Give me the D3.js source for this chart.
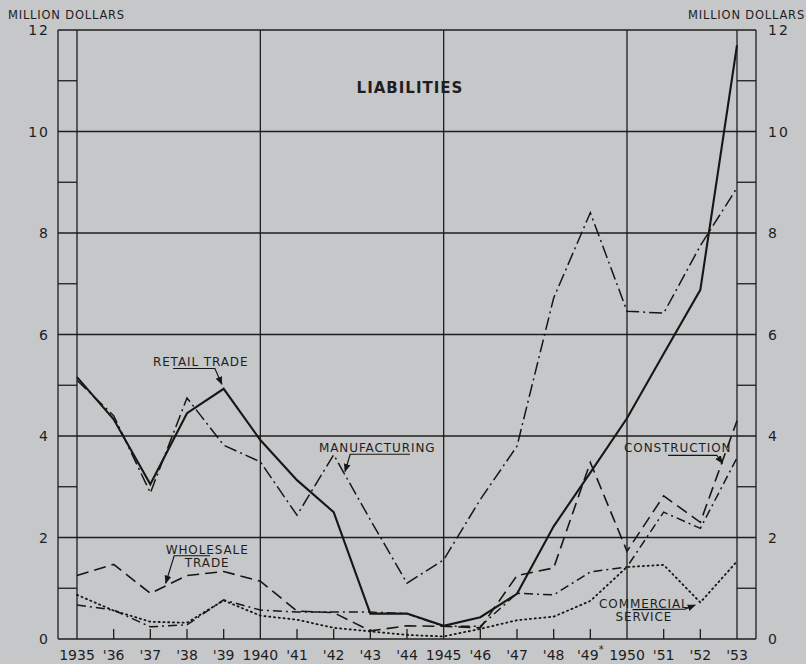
<!DOCTYPE html>
<html>
<head>
<meta charset="utf-8">
<script src="https://cdn.jsdelivr.net/npm/d3@7"></script>
<style>
  body { margin: 0; background: #c6c7c8; }
  svg { display: block; }
  text { font-family: "DejaVu Sans", sans-serif; fill: #1e1e1e; }
  .grid { stroke: #1e1e1e; stroke-width: 1.3; fill: none; }
  .series { fill: none; stroke: #161616; }
</style>
</head>
<body>
<svg id="chart" width="806" height="664"></svg>
<script>
// values, million dollars
var years = [1935, 1936, 1937, 1938, 1939, 1940, 1941, 1942, 1943, 1944,
             1945, 1946, 1947, 1948, 1949, 1950, 1951, 1952, 1953];
var yearLabels = ["1935", "'36", "'37", "'38", "'39", "1940", "'41", "'42", "'43", "'44",
                  "1945", "'46", "'47", "'48", "'49*", "1950", "'51", "'52", "'53"];
var retail = [5.16, 4.33, 3.05, 4.45, 4.93, 3.92, 3.13, 2.5, 0.5, 0.5,
              0.26, 0.43, 0.89, 2.22, 3.28, 4.35, 5.62, 6.88, 11.7];
var manufacturing = [5.1, 4.4, 2.88, 4.75, 3.82, 3.49, 2.44, 3.63, 2.35, 1.1,
                     1.56, 2.75, 3.8, 6.72, 8.4, 6.46, 6.42, 7.75, 8.89];
var wholesale = [1.25, 1.47, 0.9, 1.25, 1.33, 1.14, 0.55, 0.52, 0.16, 0.26,
                 0.25, 0.22, 1.25, 1.4, 3.48, 1.73, 2.82, 2.3, 4.3];
var construction = [0.67, 0.57, 0.24, 0.28, 0.77, 0.57, 0.53, 0.53, 0.53, 0.5,
                    0.25, 0.25, 0.9, 0.87, 1.32, 1.42, 2.5, 2.18, 3.57];
var commercial = [0.87, 0.56, 0.34, 0.32, 0.76, 0.46, 0.38, 0.22, 0.15, 0.08,
                  0.05, 0.2, 0.37, 0.44, 0.75, 1.42, 1.46, 0.72, 1.53];
var yTicks = [0, 2, 4, 6, 8, 10, 12];
var halfTicks = [1, 3, 5, 7, 9, 11];
var fullYears = [1935, 1940, 1945, 1950, 1953];

var svg = d3.select('#chart');

var x = d3.scaleLinear().domain([1935, 1953]).range([77, 737]);
var y = d3.scaleLinear().domain([0, 12]).range([639, 30]);
var strip = 19;
var left = x(1935) - strip, right = x(1953) + strip;

svg.append('defs').append('marker')
  .attr('id', 'arrow')
  .attr('viewBox', '0 0 10 10')
  .attr('refX', 9).attr('refY', 5)
  .attr('markerWidth', 7).attr('markerHeight', 7)
  .attr('orient', 'auto-start-reverse')
  .append('path')
  .attr('d', 'M0,1 L10,5 L0,9 Z')
  .attr('fill', '#161616');

// frame and grid
var g = svg.append('g');
g.selectAll('line.h').data(yTicks).enter().append('line')
  .attr('class', 'grid')
  .attr('x1', left).attr('x2', right)
  .attr('y1', function(d) { return y(d); })
  .attr('y2', function(d) { return y(d); });

// half unit ticks inside the two side strips
[[left, x(1935)], [x(1953), right]].forEach(function(s) {
  g.selectAll(null).data(halfTicks).enter().append('line')
    .attr('class', 'grid')
    .attr('x1', s[0]).attr('x2', s[1])
    .attr('y1', function(d) { return y(d); })
    .attr('y2', function(d) { return y(d); });
});

g.selectAll(null).data([left, right]).enter().append('line')
  .attr('class', 'grid')
  .attr('x1', function(d) { return d; }).attr('x2', function(d) { return d; })
  .attr('y1', y(0)).attr('y2', y(12));

g.selectAll(null).data(fullYears).enter().append('line')
  .attr('class', 'grid')
  .attr('x1', function(d) { return x(d); }).attr('x2', function(d) { return x(d); })
  .attr('y1', y(0)).attr('y2', y(12));

g.selectAll(null).data(years.filter(function(d) { return fullYears.indexOf(d) < 0; }))
  .enter().append('line')
  .attr('class', 'grid')
  .attr('x1', function(d) { return x(d); }).attr('x2', function(d) { return x(d); })
  .attr('y1', y(0)).attr('y2', y(0) - 10);

// axis labels
g.selectAll(null).data(yTicks).enter().append('text')
  .attr('x', left - 8).attr('y', function(d) { return y(d) + 5; })
  .attr('text-anchor', 'end')
  .style('font-size', '14px').style('letter-spacing', '2px')
  .text(function(d) { return d; });

g.selectAll(null).data(yTicks).enter().append('text')
  .attr('x', right + 12).attr('y', function(d) { return y(d) + 5; })
  .style('font-size', '14px').style('letter-spacing', '2px')
  .text(function(d) { return d; });

var xl = g.selectAll(null).data(years).enter().append('text')
  .attr('x', function(d) { return x(d); }).attr('y', 660)
  .attr('text-anchor', 'middle')
  .style('font-size', '14px');
xl.append('tspan').text(function(d, i) { return yearLabels[i].replace('*', ''); });
xl.filter(function(d, i) { return yearLabels[i].indexOf('*') >= 0; })
  .append('tspan').attr('dy', -7).style('font-size', '10px').text('*');

svg.append('text').attr('x', 8).attr('y', 19)
  .style('font-size', '11.5px').style('letter-spacing', '0.8px')
  .text('MILLION DOLLARS');
svg.append('text').attr('x', 805).attr('y', 19)
  .attr('text-anchor', 'end')
  .style('font-size', '11.5px').style('letter-spacing', '0.8px')
  .text('MILLION DOLLARS');

svg.append('text').attr('x', 410).attr('y', 93)
  .attr('text-anchor', 'middle')
  .style('font-size', '15px').style('font-weight', 'bold').style('letter-spacing', '1px')
  .text('LIABILITIES');

// the five series
var line = d3.line()
  .x(function(d, i) { return x(years[i]); })
  .y(function(d) { return y(d); });

var series = [
  { values: commercial, width: 1.8, dash: '1.2,3.6', cap: 'round' },
  { values: construction, width: 1.5, dash: '9,4,2,4', cap: 'butt' },
  { values: wholesale, width: 1.6, dash: '12,6', cap: 'butt' },
  { values: manufacturing, width: 1.5, dash: '13,4,2,4', cap: 'butt' },
  { values: retail, width: 2.1, dash: null, cap: 'butt' }
];

svg.selectAll('path.series').data(series).enter().append('path')
  .attr('class', 'series')
  .attr('d', function(d) { return line(d.values); })
  .attr('stroke-width', function(d) { return d.width; })
  .attr('stroke-dasharray', function(d) { return d.dash; })
  .attr('stroke-linecap', function(d) { return d.cap; });

// hand lettered labels with their pointer lines (chart units)
var notes = [
  { text: ['RETAIL TRADE'], at: [1937.07, 5.38], anchor: 'start',
    pointer: [[1937.62, 5.33], [1938.76, 5.33], [1938.95, 5.02]] },
  { text: ['MANUFACTURING'], at: [1941.6, 3.68], anchor: 'start',
    pointer: [[1944.08, 3.64], [1942.45, 3.64], [1942.31, 3.3]] },
  { text: ['WHOLESALE', 'TRADE'], at: [1938.55, 1.67], anchor: 'middle',
    pointer: [[1938.63, 1.64], [1937.65, 1.64], [1937.42, 1.1]] },
  { text: ['CONSTRUCTION'], at: [1949.92, 3.68], anchor: 'start',
    pointer: [[1951.12, 3.62], [1952.45, 3.62], [1952.6, 3.46]] },
  { text: ['COMMERCIAL', 'SERVICE'], at: [1950.46, 0.61], anchor: 'middle',
    pointer: [[1950.15, 0.58], [1951.58, 0.59], [1951.86, 0.67]] }
];

var n = svg.selectAll('g.note').data(notes).enter().append('g').attr('class', 'note');
n.append('text')
  .attr('text-anchor', function(d) { return d.anchor; })
  .style('font-size', '12px').style('letter-spacing', '0.9px')
  .selectAll('tspan').data(function(d) {
    return d.text.map(function(t) { return { t: t, d: d }; });
  }).enter().append('tspan')
  .attr('x', function(e) { return x(e.d.at[0]); })
  .attr('y', function(e, i) { return y(e.d.at[1]) + i * 13; })
  .text(function(e) { return e.t; });

n.append('path')
  .attr('d', function(d) {
    return d3.line()(d.pointer.map(function(p) { return [x(p[0]), y(p[1])]; }));
  })
  .attr('fill', 'none').attr('stroke', '#161616').attr('stroke-width', 1.2)
  .attr('marker-end', 'url(#arrow)');
</script>
</body>
</html>
